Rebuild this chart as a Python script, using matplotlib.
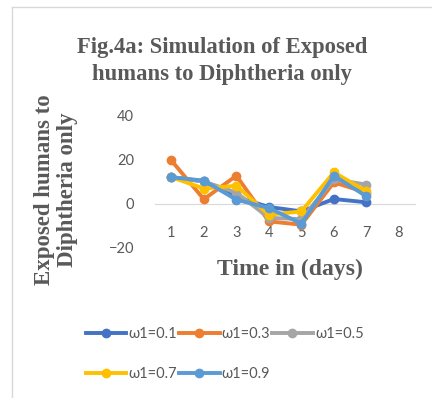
import matplotlib.pyplot as plt
from matplotlib.lines import Line2D

# simulated exposed humans per day for each omega_1 value
days = [1, 2, 3, 4, 5, 6, 7]
w01 = [12, 10, 3, -1.5, -3.5, 2.1, 0.6]
w03 = [19.5, 2, 12.6, -8, -9.5, 9.6, 5]
w05 = [12, 10, 5, -6.4, -7, 11, 8.6]
w07 = [12, 6.8, 8.1, -5, -3.5, 14.1, 5.6]
w09 = [11.9, 10.4, 1.8, -2, -9, 12.6, 3.3]
labels = ['ω1=0.1', 'ω1=0.3', 'ω1=0.5', 'ω1=0.7', 'ω1=0.9']
colors = ['#4472C4', '#ED7D31', '#A5A5A5', '#FFC000', '#5B9BD5']
xticks = [1, 2, 3, 4, 5, 6, 7, 8]
yticks = [-20, 0, 20, 40]

grey = '#595959'
fig = plt.figure(figsize=(4.32, 3.98), dpi=100)
ax = fig.add_axes([0.359, 0.377, 0.602, 0.334])

handles = []
for ys, lab, col in zip([w01, w03, w05, w07, w09], labels, colors):
    h, = ax.plot(days, ys, color=col, lw=2.8, marker='o', ms=6, label=lab,
                 solid_joinstyle='round')
    handles.append(h)

ax.set_xlim(0.5, 8.5)
ax.set_ylim(-20, 40)
ax.set_xticks(xticks)
ax.set_yticks(yticks)
for s in ['top', 'right', 'left']:
    ax.spines[s].set_visible(False)
ax.spines['bottom'].set_position(('data', 0))
ax.spines['bottom'].set_color('#D9D9D9')
ax.spines['bottom'].set_zorder(0)
ax.tick_params(axis='x', length=0, pad=16, labelsize=10.5, labelcolor=grey)
ax.tick_params(axis='y', length=0, pad=15, labelsize=10.5, labelcolor=grey)
for t in ax.get_xticklabels() + ax.get_yticklabels():
    t.set_fontfamily('Lato')

serif = dict(family='Liberation Serif', weight='bold', color=grey)
fig.text(0.515, 0.847, 'Fig.4a: Simulation of Exposed\nhumans to Diphtheria only',
         ha='center', va='center', fontsize=16.3, linespacing=1.35, **serif)
fig.text(0.13, 0.523, 'Exposed humans to\nDiphtheria only', rotation=90,
         ha='center', va='center', fontsize=16.5, linespacing=1.15, **serif)
fig.text(0.672, 0.322, 'Time in (days)', ha='center', va='center',
         fontsize=17, **serif)

# legend filled row by row: 0.1 0.3 0.5 / 0.7 0.9
order = [0, 3, 1, 4, 2]
leg = fig.legend([handles[i] for i in order], [labels[i] for i in order],
                 loc='center', bbox_to_anchor=(0.52, 0.11), ncol=3,
                 frameon=False, handlelength=2.8, handletextpad=0.15,
                 columnspacing=0.1, labelspacing=1.75,
                 prop={'family': 'Lato', 'size': 10.5})
for t in leg.get_texts():
    t.set_color(grey)

# chart frame edges
fig.add_artist(Line2D([0.028, 0.028], [0, 0.982], color='#D9D9D9', lw=1))
fig.add_artist(Line2D([0.028, 1], [0.982, 0.982], color='#D9D9D9', lw=1))

fig.savefig('out.png', dpi=100)
